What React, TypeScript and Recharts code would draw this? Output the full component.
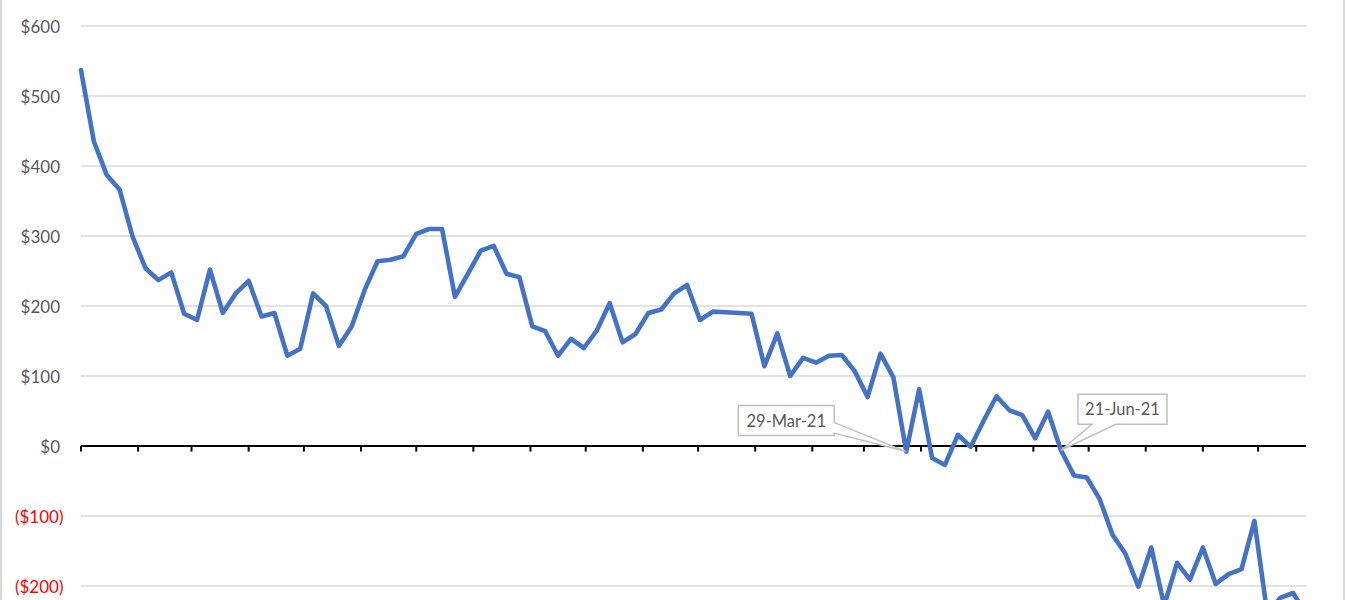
import React from "react";
import {
  LineChart,
  Line,
  XAxis,
  YAxis,
  CartesianGrid,
  ReferenceLine,
  ReferenceDot,
} from "recharts";

// weekly net values, first week starts Mon 6-Jan-2020
const FIRST_WEEK = Date.UTC(2020, 0, 6);
const DAY = 86400000;

const netValues = [
  537, 435, 387, 366, 299, 254, 237, 248, 189, 180, 252, 190, 218, 236, 185, 190,
  129, 139, 218, 200, 143, 171, 223, 264, 266, 271, 303, 310, 310, 213, 246, 279,
  286, 246, 241, 171, 164, 129, 153, 140, 165, 204, 148, 160, 190, 195, 218, 230,
  180, 192, 191, 190, 189, 114, 161, 100, 126, 119, 129, 130, 107, 70, 132, 98,
  -8, 81, -17, -27, 16, -1, 36, 71, 51, 44, 11, 49, -6, -42, -45, -76,
  -127, -154, -201, -145, -228, -167, -191, -145, -197, -183, -176, -107, -240, -217, -210, -240,
];

const weekDates = netValues.map((_, i) => FIRST_WEEK + i * 7 * DAY);

// axis runs to -300 but that label sits below the visible frame
const yTicks = [-200, -100, 0, 100, 200, 300, 400, 500, 600];

// major unit: one month, on the 6th
const monthTicks = Array.from({ length: 22 }, (_, m) => Date.UTC(2020, m, 6));

const callouts = [
  { label: "29-Mar-21", date: Date.UTC(2021, 2, 29), side: "left" },
  { label: "21-Jun-21", date: Date.UTC(2021, 5, 21), side: "top" },
];

const data = weekDates.map((t, i) => ({ t, v: netValues[i] }));

const FONT = "Lato, 'Open Sans', sans-serif";

const money = (v: number) =>
  v < 0 ? `($${Math.abs(v)})` : `$${v}`;

function YTick(props: any) {
  const { x, y, payload } = props;
  const neg = payload.value < 0;
  return (
    <text
      x={neg ? x + 0.5 : x - 3}
      y={y}
      textAnchor="end"
      dominantBaseline="central"
      fontFamily={FONT}
      fontSize={17}
      fill={neg ? "#FF0000" : "#595959"}
    >
      {money(payload.value)}
    </text>
  );
}

function Callout({ cx, cy, label, side }: any) {
  let d: string;
  let tx: number;
  let ty: number;
  if (side === "left") {
    const x0 = cx - 168, x1 = cx - 72, y0 = cy - 46, y1 = cy - 16;
    d = `M${x0},${y0} H${x1} V${cy - 29} L${cx},${cy} L${x1},${cy - 18.5} V${y1} H${x0} Z`;
    tx = (x0 + x1) / 2;
    ty = (y0 + y1) / 2;
  } else {
    const x0 = cx + 17, x1 = cx + 106, y0 = cy - 56, y1 = cy - 26;
    d = `M${x0},${y0} H${x1} V${y1} H${cx + 55} L${cx},${cy} L${cx + 31},${y1} H${x0} Z`;
    tx = (x0 + x1) / 2;
    ty = (y0 + y1) / 2;
  }
  return (
    <g>
      <path d={d} fill="#fff" stroke="#BFBFBF" strokeWidth={1.5} />
      <text
        x={tx}
        y={ty}
        textAnchor="middle"
        dominantBaseline="central"
        fontFamily={FONT}
        fontSize={16.5}
        fill="#595959"
      >
        {label}
      </text>
    </g>
  );
}

export default function App() {
  return (
    <>
      <style>{"body{margin:0}"}</style>
      <div
        style={{
          position: "relative",
          width: 1345,
          height: 600,
          overflow: "hidden",
          background: "#fff",
        }}
      >
        <div
          style={{
            position: "absolute",
            left: 0,
            top: -10,
            width: 1345,
            height: 720,
            border: "2px solid #D9D9D9",
            boxSizing: "border-box",
          }}
        />
        <div style={{ position: "absolute", left: 0, top: 0 }}>
          <LineChart
            width={1345}
            height={680}
            data={data}
            margin={{ top: 26, right: 39, bottom: 24, left: 0 }}
          >
            <CartesianGrid vertical={false} stroke="#D9D9D9" strokeWidth={1.3} />
            <XAxis
              dataKey="t"
              type="number"
              domain={[weekDates[0], weekDates[weekDates.length - 1]]}
              hide
            />
            <YAxis
              width={81}
              domain={[-300, 600]}
              ticks={yTicks}
              axisLine={false}
              tickLine={false}
              tickSize={0}
              tickMargin={18}
              tick={<YTick />}
              interval={0}
            />
            <ReferenceLine y={0} stroke="#000" strokeWidth={2} />
            {monthTicks.map((t) => (
              <ReferenceLine
                key={t}
                segment={[
                  { x: t, y: 0 },
                  { x: t, y: -8 },
                ]}
                stroke="#000"
                strokeWidth={2}
              />
            ))}
            <Line
              type="linear"
              dataKey="v"
              stroke="#4472C4"
              strokeWidth={4.6}
              strokeLinejoin="round"
              strokeLinecap="round"
              dot={false}
              isAnimationActive={false}
            />
            {callouts.map((c) => (
              <ReferenceDot
                key={c.label}
                x={c.date}
                y={netValues[weekDates.indexOf(c.date)]}
                shape={(p: any) => (
                  <Callout cx={p.cx} cy={p.cy} label={c.label} side={c.side} />
                )}
              />
            ))}
          </LineChart>
        </div>
      </div>
    </>
  );
}
